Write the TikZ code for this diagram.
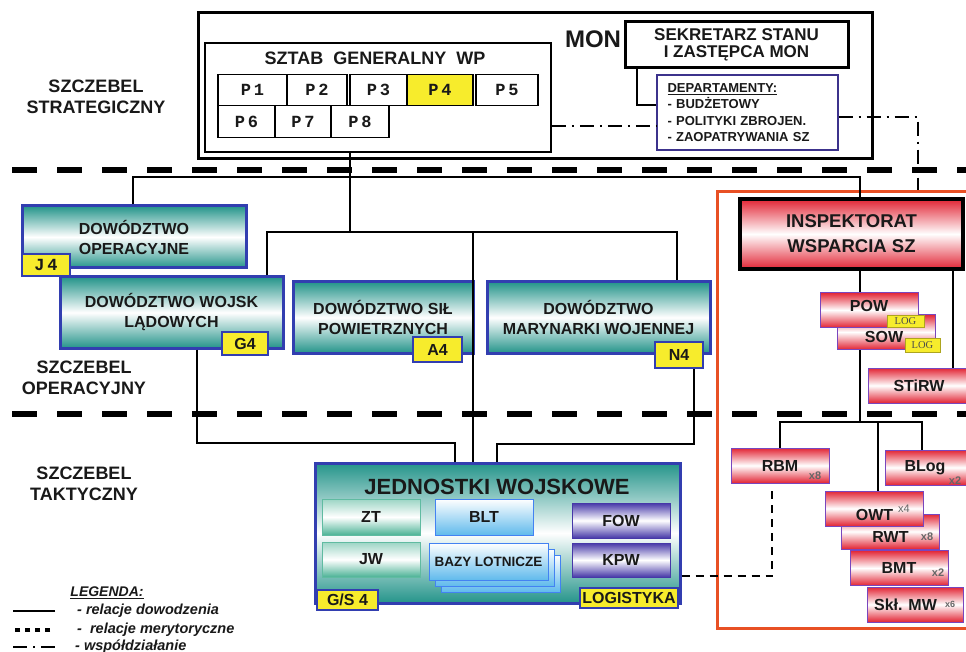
\documentclass[tikz,border=0pt]{standalone}
\usepackage{fontspec}
\setmainfont{Liberation Sans}
\setmonofont{Liberation Mono}
\newfontfamily\logfont{Liberation Serif}
\usetikzlibrary{positioning}
\definecolor{dowblue}{RGB}{50,62,176}
\definecolor{dowteal}{RGB}{36,148,138}
\definecolor{tagyellow}{RGB}{247,236,44}
\definecolor{iwsred}{RGB}{226,36,52}
\definecolor{iwsedge}{RGB}{120,70,190}
\definecolor{frameorange}{RGB}{232,80,36}
\definecolor{fowblue}{RGB}{70,56,168}
\definecolor{bltblue}{RGB}{96,186,236}
\definecolor{ztgreen}{RGB}{56,170,138}
\definecolor{deptedge}{RGB}{60,50,140}
\newcommand{\fsz}[1]{\fontsize{#1}{#1}\selectfont}

\begin{document}
\begin{tikzpicture}[
    x=1pt, y=-1pt,
    every node/.style={inner sep=0pt, text=black!90},
    level/.style={align=center, font=\fontsize{18}{21}\selectfont\bfseries},
    levelline/.style={line width=6pt, dash pattern=on 25pt off 20pt},
    frame/.style={draw, line width=3pt},
    pbox/.style={draw, line width=1.3pt, minimum height=31.5pt, font=\ttfamily\bfseries\fsz{17}},
    dowbox/.style={draw=dowblue, line width=3pt, top color=dowteal, bottom color=dowteal, middle color=white, align=center, font=\fontsize{16}{20}\selectfont\bfseries},
    tag/.style={draw=dowblue, line width=2pt, fill=tagyellow, font=\bfseries\fsz{16}},
    ztbox/.style={draw=ztgreen!80, line width=1pt, top color=ztgreen!50, bottom color=ztgreen!90, middle color=white, minimum width=98pt, minimum height=35pt, font=\bfseries\fsz{16}},
    bltbox/.style={draw=bltblue!70!blue, line width=1pt, top color=white, bottom color=bltblue, minimum width=98pt, minimum height=36pt, font=\bfseries\fsz{16}},
    fowbox/.style={draw=fowblue, line width=1pt, top color=fowblue, bottom color=fowblue, middle color=white, minimum width=98pt, minimum height=35pt, font=\bfseries\fsz{16}},
    redbox/.style={draw=iwsedge, line width=0.8pt, top color=iwsred, bottom color=iwsred, middle color=white, minimum width=98pt, minimum height=35pt, font=\bfseries\fsz{16}},
    logtag/.style={fill=tagyellow, draw=tagyellow!70!black, line width=0.5pt, text=black!70, font=\logfont\fsz{10.5}},
    mult/.style={text=black!60, font=\bfseries\fsz{11}},
    legend/.style={anchor=west, font=\bfseries\itshape\fsz{14.5}},
    cmd/.style={line width=2.5pt},
    coop/.style={line width=2pt, dash pattern=on 14pt off 6pt on 2pt off 6pt},
    topic/.style={line width=2pt, dash pattern=on 8pt off 6pt}
]
\useasboundingbox (0,0) rectangle (966,652);
\clip (0,0) rectangle (966,652);
\fill[white] (0,0) rectangle (966,652);

\draw[levelline] (12,170) -- (990,170);
\draw[levelline] (12,414) -- (990,414);

\node[level] (strat) at (96,97) {SZCZEBEL\\STRATEGICZNY};
\node[level] (oper) at (84,378) {SZCZEBEL\\OPERACYJNY};
\node[level] (takt) at (84,484) {SZCZEBEL\\TAKTYCZNY};

\node[frame, minimum width=674pt, minimum height=146pt] (mon) at (535,86) {};
\node[font=\bfseries\fsz{24}] (montxt) at (593,39) {MON};
\node[draw, line width=1.8pt, minimum width=346pt, minimum height=109pt] (sztab) at (378,97.5) {};
\node[font=\bfseries\fsz{18}] (sztabtxt) at (375,58) {SZTAB\ \ GENERALNY\ \ WP};
\foreach \n/\cx/\w/\cy/\bg in {1/252.5/69/90/white, 2/317/60/90/white, 3/378.5/57/90/white, 4/440/66/90/tagyellow, 5/507/62/90/white, 6/246.5/57/121.5/white, 7/303/56/121.5/white, 8/360/58/121.5/white}
    \node[pbox, fill=\bg, minimum width=\w pt] (p\n) at (\cx,\cy) {P\kern3pt\n};
\node[frame, fill=white, minimum width=223pt, minimum height=46pt, align=center, font=\bfseries\fontsize{17}{17}\selectfont] (sekr) at (736.5,45) {SEKRETARZ STANU\\I ZASTĘPCA MON};
\node[draw=deptedge, line width=1.2pt, fill=white, minimum width=181pt, minimum height=75pt, text width=160pt, align=left, font=\bfseries\fontsize{13}{16.3}\selectfont] (dept) at (747.5,112.5) {\underline{DEPARTAMENTY:}\\- BUDŻETOWY\\- POLITYKI ZBROJEN.\\- ZAOPATRYWANIA SZ};

\node[draw=frameorange, line width=3pt, minimum width=263pt, minimum height=436pt] (iwsframe) at (848.5,410) {};
\node[draw, line width=4pt, top color=iwsred, bottom color=iwsred, middle color=white, minimum width=223pt, minimum height=70pt, align=center, font=\bfseries\fontsize{18.5}{25}\selectfont] (insp) at (851.5,234) {INSPEKTORAT\\WSPARCIA SZ};

\node[dowbox, minimum width=224pt, minimum height=62pt] (dowop) at (134,237) {DOWÓDZTWO\\OPERACYJNE};
\node[tag, minimum width=48pt, minimum height=22pt, font=\ttfamily\bfseries\fsz{17}] (j4) at (46,265) {J\kern3pt 4};
\node[dowbox, minimum width=223pt, minimum height=71pt] (dowwl) at (171.5,312.5) {DOWÓDZTWO WOJSK\\LĄDOWYCH};
\node[tag, minimum width=46pt, minimum height=23pt] (g4) at (245,343.5) {G4};
\node[dowbox, minimum width=180pt, minimum height=71pt] (dowsp) at (383,317.5) {DOWÓDZTWO SIŁ\\POWIETRZNYCH};
\node[tag, minimum width=49pt, minimum height=25pt] (a4) at (437.5,349.5) {A4};
\node[dowbox, minimum width=223pt, minimum height=71pt] (dowmw) at (598.5,317.5) {DOWÓDZTWO\\MARYNARKI WOJENNEJ};
\node[tag, minimum width=48pt, minimum height=26pt] (n4) at (679,355) {N4};

\node[dowbox, minimum width=365pt, minimum height=140pt] (jw) at (497.5,533) {};
\node[font=\bfseries\fsz{22}] (jwtitle) at (497,487) {JEDNOSTKI WOJSKOWE};
\node[ztbox, minimum height=36pt] (zt) at (371,517) {ZT};
\node[ztbox] (jwu) at (371,559.5) {JW};
\node[bltbox] (blt) at (484,517) {BLT};
\node[bltbox, minimum width=119pt, minimum height=37pt] (bazy3) at (500.5,573.5) {};
\node[bltbox, minimum width=119pt, minimum height=37pt] (bazy2) at (494.5,567.5) {};
\node[bltbox, minimum width=119pt, minimum height=37pt, font=\bfseries\fsz{13.5}] (bazy) at (488.5,561.5) {BAZY LOTNICZE};
\node[fowbox] (fow) at (621,520.5) {FOW};
\node[fowbox, minimum height=34pt] (kpw) at (621,560) {KPW};
\node[tag, minimum width=61pt, minimum height=20pt] (gs4) at (347.5,600) {G/S 4};
\node[tag, minimum width=98pt, minimum height=20pt] (logi) at (629,598) {LOGISTYKA};

\coordinate (s1) at (637,105);
\coordinate (w1) at (600,126);
\coordinate (w2) at (918,117);
\coordinate (a1) at (133,177);
\coordinate (a2) at (860,177);
\coordinate (b0) at (350,232);
\coordinate (b1) at (267,232);
\coordinate (b2) at (473,232);
\coordinate (b3) at (677,232);
\coordinate (c1) at (197,443);
\coordinate (c2) at (455,443);
\coordinate (d1) at (694,444);
\coordinate (d2) at (497,444);
\coordinate (e0) at (860,422);
\coordinate (e1) at (780,422);
\coordinate (e2) at (878,422);
\coordinate (e3) at (922,422);
\coordinate (f1) at (953,300);
\coordinate (g1) at (772,576);

\draw[cmd] (sekr.south -| s1) -- (s1) -- (dept.west |- s1);
\draw[coop] (sztab.east |- w1) -- (dept.west |- w1);
\draw[coop] (dept.east |- w2) -- (w2) -- (iwsframe.north -| w2);
\draw[cmd] (dowop.north -| a1) -- (a1) -- (a2) -- (insp.north -| a2);
\draw[cmd] (sztab.south -| b0) -- (b0);
\draw[cmd] (dowwl.north -| b1) -- (b1) -- (b3) -- (dowmw.north -| b3);
\draw[cmd] (b2) -- (jw.north -| b2);
\draw[cmd] (dowwl.south -| c1) -- (c1) -- (c2) -- (jw.north -| c2);
\draw[cmd] (n4.south -| d1) -- (d1) -- (d2) -- (jw.north -| d2);
\draw[cmd] (insp.south -| e0) -- (e0);

\node[redbox] (sow) at (886,332) {\raisebox{-5pt}[\height][\depth]{SOW}\kern4pt};
\node[redbox] (pow) at (869,310) {\raisebox{4pt}[\height][\depth]{POW}};
\node[logtag, minimum width=37pt, minimum height=12pt] (logpow) at (905.5,321) {LOG};
\node[logtag, minimum width=35pt, minimum height=14pt] (logsow) at (922.5,345) {LOG};
\node[redbox, minimum width=102pt] (stirw) at (919,385.5) {STiRW};
\node[redbox] (rbm) at (780,465.5) {RBM};
\node[redbox] (blog) at (934,467.5) {BLog\kern18pt};
\node[redbox] (rwt) at (890.5,531.5) {\raisebox{-5pt}[\height][\depth]{RWT}};
\node[redbox] (owt) at (874.5,508.5) {\raisebox{-6pt}[\height][\depth]{OWT}};
\node[redbox] (bmt) at (899,568) {BMT};
\node[redbox, minimum width=96pt] (skl) at (915,604.5) {Skł. MW\kern19pt};
\node[mult] (rbmx) at (815,476) {x8};
\node[mult] (blogx) at (955,481) {x2};
\node[mult, font=\fsz{11}] (owtx) at (904,509) {x4};
\node[mult] (rwtx) at (927,537) {x8};
\node[mult] (bmtx) at (938,573) {x2};
\node[mult, font=\bfseries\fsz{9}] (sklx) at (950,604) {x6};

\draw[cmd] (rbm.north -| e1) -- (e1) -- (e3) -- (blog.north -| e3);
\draw[cmd] (e2) -- (owt.north -| e2);
\draw[cmd] (insp.south -| f1) -- (stirw.north -| f1);
\draw[topic, shorten >=6pt] (jw.east |- g1) -- (g1) -- (rbm.south -| g1);

\node[font=\bfseries\itshape\fsz{14}] (legtitle) at (107,593) {\underline{LEGENDA:}};
\node[legend] (leg1) at (77,611) {- relacje dowodzenia};
\node[legend] (leg2) at (77,630) {-\ \ relacje merytoryczne};
\node[legend] (leg3) at (75,647) {- współdziałanie};
\draw[line width=2pt] ([xshift=-22pt]leg1.west) -- ([xshift=-64pt]leg1.west);
\draw[line width=4pt, dash pattern=on 5pt off 5pt] ([xshift=-27pt]leg2.west) -- ([xshift=-62pt]leg2.west);
\draw[coop] ([xshift=-62pt]leg3.west) -- ([xshift=-20pt]leg3.west);
\end{tikzpicture}
\end{document}
